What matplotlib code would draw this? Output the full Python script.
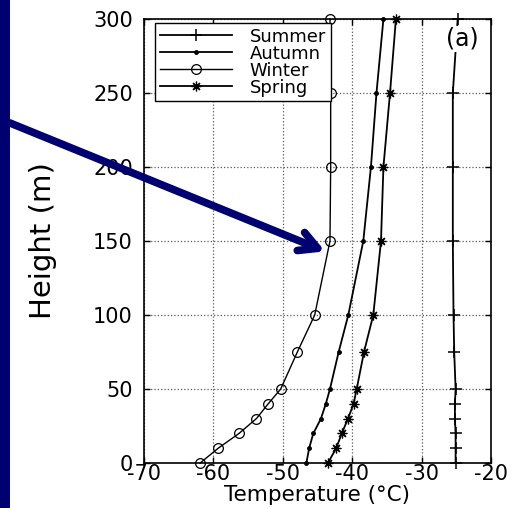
import matplotlib
matplotlib.use("Agg")
import matplotlib.pyplot as plt
from matplotlib.patches import Rectangle

plt.rcParams['font.family'] = ['DejaVu Sans']
plt.rcParams['axes.unicode_minus'] = False

# heights (m) and seasonal temperature profiles (deg C)
heights = [0, 10, 20, 30, 40, 50, 75, 100, 150, 200, 250, 300]
summer = [-25.1, -25.1, -25.1, -25.2, -25.2, -25.1, -25.3, -25.4, -25.5, -25.5, -25.5, -24.8]
autumn = [-46.6, -46.2, -45.6, -44.5, -43.8, -43.2, -41.95, -40.56, -38.4, -37.3, -36.5, -35.5]
winter = [-61.9, -59.3, -56.3, -53.8, -52.1, -50.3, -47.9, -45.4, -43.2, -43.1, -43.1, -43.2]
spring = [-43.5, -42.3, -41.5, -40.6, -39.8, -39.35, -38.3, -36.96, -35.85, -35.5, -34.55, -33.7]

xticks = [-70, -60, -50, -40, -30, -20]
yticks = [0, 50, 100, 150, 200, 250, 300]

navy = '#000070'

fig = plt.figure(figsize=(5.23, 5.08), dpi=100)
fig.patches.append(Rectangle((0, 0), 10 / 523, 1, transform=fig.transFigure,
                             facecolor=navy, edgecolor='none'))

ax = fig.add_axes([0.2753, 0.0886, 0.6635, 0.874])

ax.plot(summer, heights, color='k', lw=1.3, marker='+', ms=8, mew=1.1,
        label='Summer', clip_on=False)
ax.plot(autumn, heights, color='k', lw=1.3, marker='.', ms=5,
        label='Autumn', clip_on=False)
ax.plot(winter, heights, color='k', lw=1.0, marker='o', ms=7, mfc='none', mew=0.9,
        label='Winter', clip_on=False)
ax.plot(spring, heights, color='k', lw=1.3, marker=(8, 2, 0), ms=7, mew=0.9,
        label='Spring', clip_on=False)

ax.set_xlim(-70, -20)
ax.set_ylim(0, 300)
ax.set_xticks(xticks)
ax.set_yticks(yticks)
ax.tick_params(direction='in', length=4, top=True, right=True, width=1)
ax.tick_params(axis='x', labelsize=15, pad=1)
ax.tick_params(axis='y', labelsize=15, pad=8)
for s in ax.spines.values():
    s.set_linewidth(1.2)
ax.grid(True, linestyle=':', color='0.35', linewidth=0.9)

ax.set_xlabel('Temperature (°C)', fontsize=15.5)
ax.xaxis.set_label_coords(0.5, -0.05)
ax.set_ylabel('Height (m)', fontsize=21)
ax.yaxis.set_label_coords(-0.25, 0.5)

leg = ax.legend(loc='upper left', bbox_to_anchor=(0.032, 0.991), fontsize=13,
                fancybox=False, edgecolor='k', framealpha=1, borderpad=0.25,
                labelspacing=-0.05, handlelength=4.0, handletextpad=1.0,
                borderaxespad=0)
leg.get_frame().set_linewidth(1.0)

ax.text(-24.2, 286.5, '(a)', fontsize=17, ha='center', va='center',
        bbox=dict(facecolor='white', edgecolor='none', pad=1))

ax.annotate('', xy=(-43.9, 143), xycoords='data',
            xytext=(10 / 523, 1 - 123 / 508), textcoords='figure fraction',
            arrowprops=dict(arrowstyle='->,head_length=0.65,head_width=0.35',
                            color=navy, lw=5.5, mutation_scale=20,
                            shrinkA=0, shrinkB=0),
            annotation_clip=False, zorder=10)

fig.savefig('out.png', dpi=100)
